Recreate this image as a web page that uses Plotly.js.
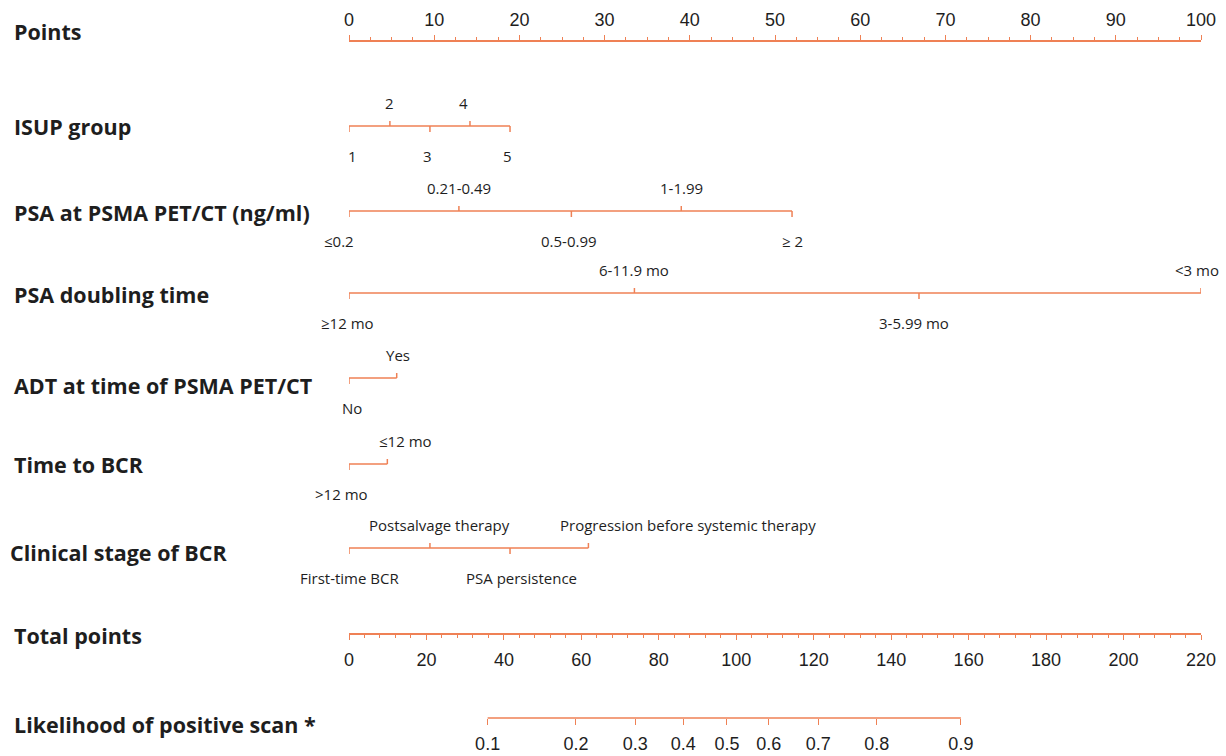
<!DOCTYPE html>
<html>
<head>
<meta charset="utf-8">
<script src="https://cdn.plot.ly/plotly-3.0.1.min.js"></script>
<style>html,body{margin:0;padding:0;background:#fff;}#chart{width:1226px;height:756px;}</style>
</head>
<body>
<div id="chart"></div>
<script>
// ---------- data ----------
const pointsRange = [0, 100];
const totalRange = [0, 220];

const isupLevels = ['1', '2', '3', '4', '5'];
const isupPoints = [0, 4.8, 9.5, 14.2, 18.9];

const psaLevels = ['≤0.2', '0.21-0.49', '0.5-0.99', '1-1.99', '≥ 2'];
const psaPoints = [0, 12.9, 26.1, 39.0, 52.0];

const psadtLevels = ['≥12 mo', '6-11.9 mo', '3-5.99 mo', '<3 mo'];
const psadtPoints = [0, 33.5, 66.9, 100];

const adtLevels = ['No', 'Yes'];
const adtPoints = [0, 5.6];

const bcrTimeLevels = ['>12 mo', '≤12 mo'];
const bcrTimePoints = [0, 4.5];

const stageLevels = ['First-time BCR', 'Postsalvage therapy', 'PSA persistence', 'Progression before systemic therapy'];
const stagePoints = [0, 9.5, 18.9, 28.1];

const likelihoodLabels = ['0.1', '0.2', '0.3', '0.4', '0.5', '0.6', '0.7', '0.8', '0.9'];
const likelihoodTotalPoints = [35.8, 58.6, 73.9, 86.3, 97.6, 108.4, 121.2, 136.3, 158];

const rowNames = ['Points', 'ISUP group', 'PSA at PSMA PET/CT (ng/ml)', 'PSA doubling time',
  'ADT at time of PSMA PET/CT', 'Time to BCR', 'Clinical stage of BCR', 'Total points',
  'Likelihood of positive scan *'];

// ---------- layout / style ----------
const W = 1226, H = 756, ML = 349, MR = 25;
const PW = W - ML - MR;
const ORANGE = '#ef8155';
const TXT = '#1e1e1e';
const rowNameY = [31, 126, 212, 294, 385, 464, 552, 635, 724];
const rowNameX = [12, 12, 12, 12, 12, 12, 8, 12, 12];
const pointsLineY = 40, totalLineY = 633, likeLineY = 718;

const catRows = [
  {levels: isupLevels, pts: isupPoints, y: 126, shift: [3, 0, -2, -6, -3]},
  {levels: psaLevels, pts: psaPoints, y: 211, shift: [-10, 0, -2, 0, 0]},
  {levels: psadtLevels, pts: psadtPoints, y: 293, shift: [-2, 0, -5, -4]},
  {levels: adtLevels, pts: adtPoints, y: 378, shift: [3, 1]},
  {levels: bcrTimeLevels, pts: bcrTimePoints, y: 464, shift: [-8, 18]},
  {levels: stageLevels, pts: stagePoints, y: 548, shift: [0, 10, 11, 100]}
];
const upOff = -23, downOff = 30, tickUp = 5, tickDown = 6;

const pxToPaperX = px => (px - ML) / PW;

const traces = [];
const annotations = [];

catRows.forEach(r => {
  const xs = [0, Math.max(...r.pts), null];
  const ys = [r.y, r.y, null];
  r.pts.forEach((p, i) => {
    const up = i % 2 === 1;
    xs.push(p, p, null);
    ys.push(r.y, up ? r.y - tickUp : r.y + tickDown, null);
    annotations.push({
      x: p, y: r.y + (up ? upOff : downOff), xref: 'x', yref: 'y',
      text: r.levels[i], showarrow: false, xanchor: 'center', yanchor: 'middle',
      xshift: r.shift[i] || 0,
      font: {family: '"Open Sans", Lato, sans-serif', size: 15, color: TXT}
    });
  });
  traces.push({x: xs, y: ys, xaxis: 'x', yaxis: 'y', mode: 'lines',
    line: {color: ORANGE, width: 1.5}, hoverinfo: 'skip', showlegend: false});
});

// total points axis carrier (invisible)
traces.push({x: totalRange, y: [totalLineY, totalLineY], xaxis: 'x2', yaxis: 'y',
  mode: 'lines', line: {color: 'rgba(0,0,0,0)', width: 0}, hoverinfo: 'skip', showlegend: false});
// likelihood baseline
traces.push({x: [likelihoodTotalPoints[0], likelihoodTotalPoints[likelihoodTotalPoints.length - 1]],
  y: [likeLineY, likeLineY], xaxis: 'x3', yaxis: 'y', mode: 'lines',
  line: {color: ORANGE, width: 1.5}, hoverinfo: 'skip', showlegend: false});

rowNames.forEach((n, i) => {
  annotations.push({
    x: pxToPaperX(rowNameX[i]), y: rowNameY[i], xref: 'paper', yref: 'y',
    text: n, showarrow: false, xanchor: 'left', yanchor: 'middle',
    font: {family: '"Open Sans", Lato, sans-serif', size: 21.5, color: TXT, weight: 700}
  });
});

const numFont = {family: '"Liberation Sans", Arial, sans-serif', size: 18, color: TXT};

const layout = {
  width: W, height: H,
  margin: {l: ML, r: MR, t: 0, b: 0},
  paper_bgcolor: '#fff', plot_bgcolor: '#fff',
  showlegend: false,
  xaxis: {
    range: pointsRange, anchor: 'free', position: 1 - pointsLineY / H, side: 'top',
    showline: true, linecolor: ORANGE, linewidth: 1.5,
    ticks: 'outside', ticklen: 5, tickwidth: 1, tickcolor: ORANGE,
    dtick: 10, tick0: 0, tickfont: numFont, ticklabelstandoff: 2,
    minor: {dtick: 2.5, ticks: 'outside', ticklen: 3, tickcolor: ORANGE, tickwidth: 1, showgrid: false},
    showgrid: false, zeroline: false, fixedrange: true
  },
  xaxis2: {
    range: totalRange, overlaying: 'x', anchor: 'free', position: 1 - totalLineY / H, side: 'bottom',
    showline: true, linecolor: ORANGE, linewidth: 1.5,
    ticks: 'outside', ticklen: 5, tickwidth: 1, tickcolor: ORANGE,
    dtick: 20, tick0: 0, tickfont: numFont, ticklabelstandoff: 5,
    minor: {dtick: 4, ticks: 'outside', ticklen: 3, tickcolor: ORANGE, tickwidth: 1, showgrid: false},
    showgrid: false, zeroline: false, fixedrange: true
  },
  xaxis3: {
    range: totalRange, overlaying: 'x', anchor: 'free', position: 1 - likeLineY / H, side: 'bottom',
    showline: false, ticks: 'outside', ticklen: 6, tickwidth: 1, tickcolor: ORANGE,
    tickmode: 'array', tickvals: likelihoodTotalPoints, ticktext: likelihoodLabels,
    tickfont: numFont, ticklabelstandoff: 3,
    showgrid: false, zeroline: false, fixedrange: true
  },
  yaxis: {range: [H, 0], visible: false, fixedrange: true, showgrid: false, zeroline: false},
  annotations: annotations
};

Plotly.newPlot('chart', traces, layout, {staticPlot: true, displayModeBar: false});
</script>
</body>
</html>
